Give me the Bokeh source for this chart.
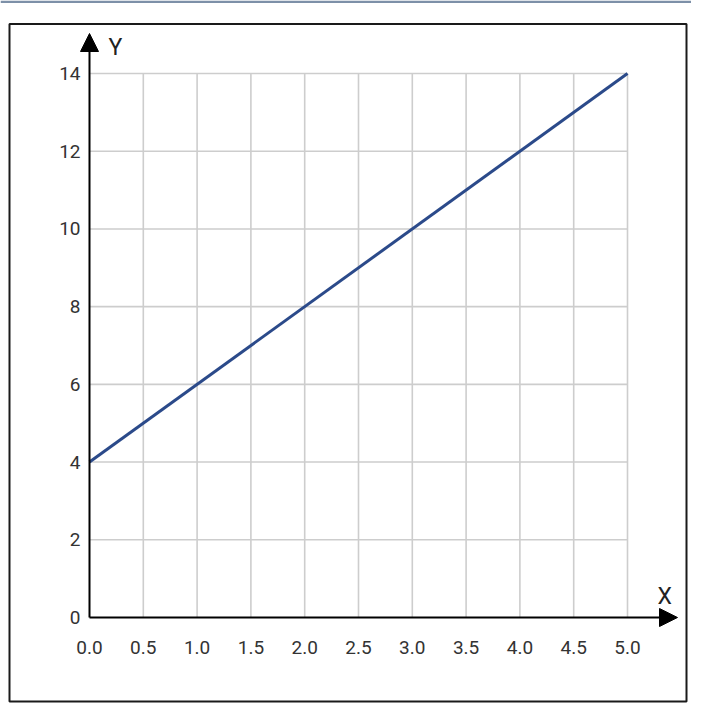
from bokeh.plotting import figure
from bokeh.models import Arrow, NormalHead
from bokeh.core.properties import value
from bokeh.embed import file_html
from bokeh.resources import INLINE

# ---- data ----
x_ticks = [0.0, 0.5, 1.0, 1.5, 2.0, 2.5, 3.0, 3.5, 4.0, 4.5, 5.0]
x_tick_labels = ["0.0", "0.5", "1.0", "1.5", "2.0", "2.5", "3.0", "3.5", "4.0", "4.5", "5.0"]
y_ticks = [0, 2, 4, 6, 8, 10, 12, 14]
y_tick_labels = ["0", "2", "4", "6", "8", "10", "12", "14"]
line_x = [0.0, 5.0]
line_y = [4.0, 14.0]
x_axis_name = "X"
y_axis_name = "Y"

# ---- layout (pixel anchors on the canvas) ----
W, H = 691, 711
x0_px, x_scale = 89.0, 107.6      # canvas px of x=0, px per unit
y0_px, y_scale = 617.0, 38.857    # canvas px (from top) of y=0, px per unit

def dx(px):  # canvas px -> data x
    return (px - x0_px) / x_scale

def dy(py):  # canvas px (from top) -> data y
    return (y0_px - py) / y_scale

p = figure(width=W, height=H, output_backend="svg", toolbar_location=None,
           x_range=(dx(0), dx(W)), y_range=(dy(H), dy(0)),
           x_axis_type=None, y_axis_type=None, min_border=0)
p.outline_line_color = None
p.grid.visible = False
p.background_fill_color = "white"

# top thin band
p.quad(left=[dx(0)], right=[dx(W)], top=[dy(0)], bottom=[dy(2.5)],
       fill_color="#7d90a8", line_color=None)

# outer frame box
p.quad(left=[dx(9)], right=[dx(686)], top=[dy(23.5)], bottom=[dy(701)],
       fill_color=None, line_color="#1a1a1a", line_width=2)

# grid lines
xmax, ymax = x_ticks[-1], y_ticks[-1]
gx = [t for t in x_ticks if t > 0]
p.segment(x0=gx, y0=[0] * len(gx), x1=gx, y1=[ymax] * len(gx),
          line_color="#cdcdcd", line_width=1.6)
gy = [t for t in y_ticks if t > 0]
p.segment(x0=[0] * len(gy), y0=gy, x1=[xmax] * len(gy), y1=gy,
          line_color="#cdcdcd", line_width=1.6)

# data line
p.line(line_x, line_y, line_color="#2b4a8a", line_width=3)

# axes with arrows
p.add_layout(Arrow(x_start=0, y_start=0, x_end=0, y_end=dy(33),
                   line_color="black", line_width=2,
                   end=NormalHead(size=18, fill_color="black", line_color="black")))
p.add_layout(Arrow(x_start=0, y_start=0, x_end=dx(677), y_end=0,
                   line_color="black", line_width=2,
                   end=NormalHead(size=18, fill_color="black", line_color="black")))

# tick labels
p.text(x=x_ticks, y=[0] * len(x_ticks), text=x_tick_labels,
       text_font=value("Roboto"), text_font_size="19px", text_color="#333333",
       text_align="center", text_baseline="alphabetic", y_offset=30)
p.text(x=[0] * len(y_ticks), y=y_ticks, text=y_tick_labels,
       text_font=value("Roboto"), text_font_size="19px", text_color="#333333",
       text_align="right", text_baseline="middle", x_offset=-9)

# axis names
p.text(x=[dx(108)], y=[dy(47)], text=[y_axis_name],
       text_font=value("Roboto"), text_font_size="23px", text_color="#222222",
       text_align="left", text_baseline="alphabetic")
p.text(x=[dx(657)], y=[dy(596)], text=[x_axis_name],
       text_font=value("Roboto"), text_font_size="23px", text_color="#222222",
       text_align="left", text_baseline="alphabetic")

open("out.html", "w").write(file_html(p, INLINE))
